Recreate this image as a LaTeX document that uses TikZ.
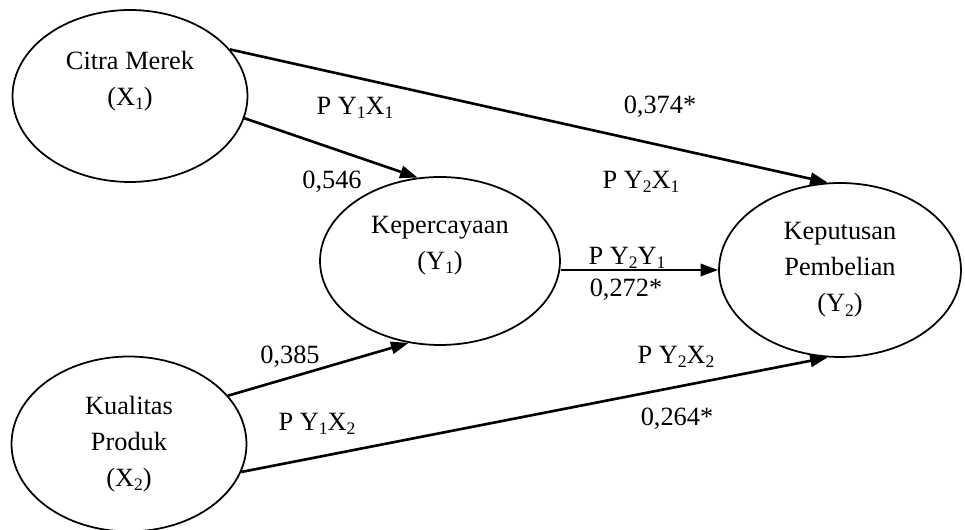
\documentclass[tikz,border=0pt]{standalone}
\usepackage{fontspec}
\setmainfont{Liberation Serif}
\usepackage{tikz}
\usetikzlibrary{arrows.meta,shapes.geometric,positioning}
% lowered index digit, as in X_1
\newcommand{\ix}[1]{\raisebox{-0.35ex}{\fontsize{10}{10}\selectfont #1}}
\tikzset{
    % Latent variable (ellipse)
    latent/.style={
        ellipse, draw=black, fill=white, line width=1pt,
        inner sep=0pt, align=center,
        font=\fontsize{15}{20.5}\selectfont
    },
    % Path arrows
    path/.style={line width=1.5pt, -{Triangle[length=10pt,width=7pt]}},
    % Coefficient / path labels
    coef/.style={font=\fontsize{15}{18}\selectfont, inner sep=1pt},
}

\begin{document}
\begin{tikzpicture}[x=0.02cm,y=-0.02cm]
      \useasboundingbox (0,0) rectangle (965,530);
      \node[latent,minimum width=4.7cm,minimum height=3.44cm] (cm) at (130,96)
          {Citra Merek\\(X\ix{1})\\~};
      \node[latent,minimum width=4.8cm,minimum height=3.36cm] (kc) at (440,261)
          {Kepercayaan\\(Y\ix{1})\\~};
      \node[latent,minimum width=4.7cm,minimum height=3.5cm] (kq) at (129,444)
          {Kualitas\\Produk\\(X\ix{2})};
      \node[latent,minimum width=4.84cm,minimum height=3.48cm] (kp) at (840,270)
          {Keputusan\\Pembelian\\(Y\ix{2})};
      % direct and indirect paths
      \draw[path] (cm.25) -- (kp.98);
      \draw[path] (cm.-11) -- (kc.105);
      \draw[path] (kc.east |- kp.west) -- (kp.west);
      \draw[path] (kq.26) -- (kc.249);
      \draw[path] (kq.-14) -- (kp.262);
      % path coefficients
      \node[coef] (l11) at (355,108) {P Y\ix{1}X\ix{1}};
      \node[coef] (c21) at (660,107) {0,374*};
      \node[coef] (c11) at (332,182) {0,546};
      \node[coef] (l21) at (641,182) {P Y\ix{2}X\ix{1}};
      \node[coef] (ly)  at (627,258) {P Y\ix{2}Y\ix{1}};
      \node[coef] (cy)  at (626,290) {0,272*};
      \node[coef] (c12) at (290,357) {0,385};
      \node[coef] (l22) at (676,357) {P Y\ix{2}X\ix{2}};
      \node[coef] (l12) at (317,424) {P Y\ix{1}X\ix{2}};
      \node[coef] (c22) at (677,419) {0,264*};
\end{tikzpicture}
\end{document}
